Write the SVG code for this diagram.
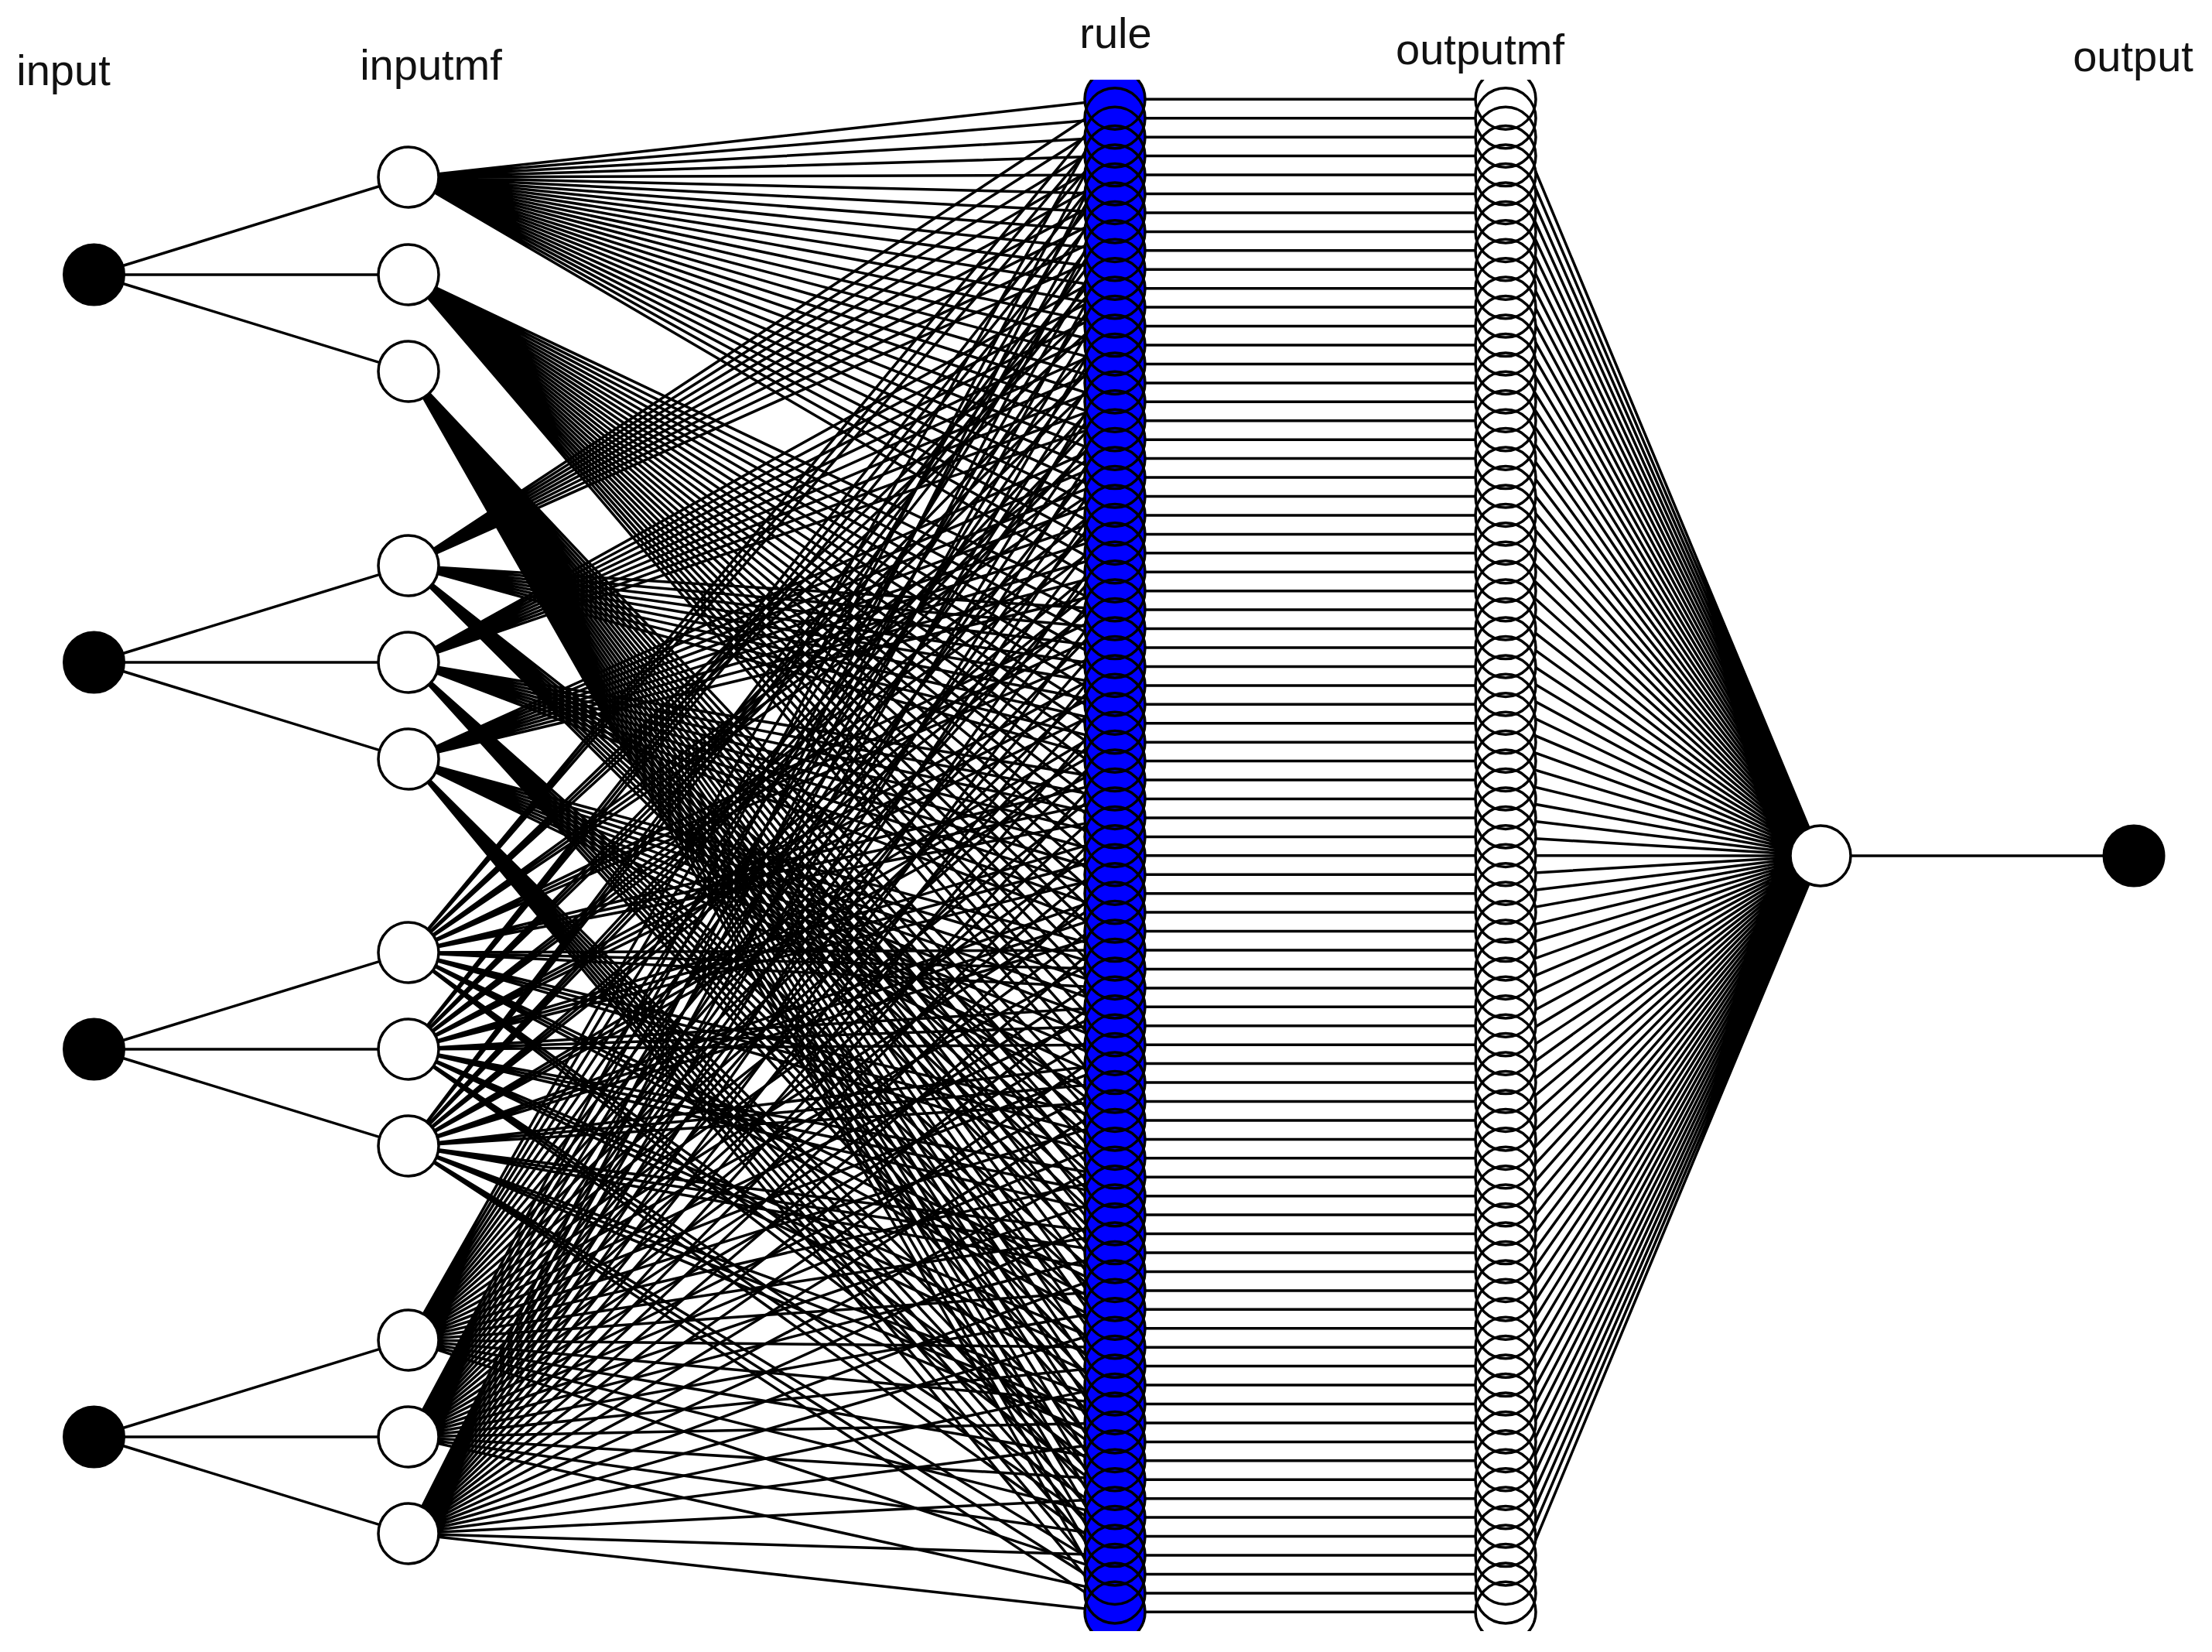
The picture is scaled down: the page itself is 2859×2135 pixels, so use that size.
<svg xmlns="http://www.w3.org/2000/svg" width="2859" height="2135" viewBox="0 0 2859 2135">
<style>
text{font-family:"Liberation Sans",Arial,sans-serif;font-size:56px;fill:#111;text-anchor:middle}
.c{stroke:#000;stroke-width:3.5;fill:none}
.inode{fill:#000;stroke:#000;stroke-width:3}
.mf{fill:#fff;stroke:#000;stroke-width:3.5}
.rfill{fill:#0000ff;stroke:none}
.wfill{fill:#fff;stroke:none}
.edge{fill:none;stroke:#000;stroke-width:3.5}
</style>
<defs><clipPath id="col"><rect x="1300" y="103" width="800" height="2005"/></clipPath></defs>
<rect width="2859" height="2135" fill="#fff"/>
<g id="labels">
<text x="82" y="110">input</text>
<text x="557" y="103">inputmf</text>
<text x="1442" y="62">rule</text>
<text x="1913" y="83">outputmf</text>
<text x="2757" y="92">output</text>
</g>
<g id="connectors" class="c">
<path id="input-to-mf" d="M121.5 355L528 229M121.5 355L528 355M121.5 355L528 480M121.5 856L528 731M121.5 856L528 856M121.5 856L528 981M121.5 1356L528 1231M121.5 1356L528 1356M121.5 1356L528 1481M121.5 1857L528 1732M121.5 1857L528 1857M121.5 1857L528 1982"/>
<path id="mf1-1-rules" d="M528 229L1441 128.3M528 229L1441 152.7M528 229L1441 177.2M528 229L1441 201.6M528 229L1441 226.1M528 229L1441 250.5M528 229L1441 274.9M528 229L1441 299.4M528 229L1441 323.8M528 229L1441 348.2M528 229L1441 372.7M528 229L1441 397.1M528 229L1441 421.6M528 229L1441 446M528 229L1441 470.4M528 229L1441 494.9M528 229L1441 519.3M528 229L1441 543.7M528 229L1441 568.2M528 229L1441 592.6M528 229L1441 617.1M528 229L1441 641.5M528 229L1441 665.9M528 229L1441 690.4M528 229L1441 714.8M528 229L1441 739.2M528 229L1441 763.7"/>
<path id="mf1-2-rules" d="M528 355L1441 788.1M528 355L1441 812.6M528 355L1441 837M528 355L1441 861.4M528 355L1441 885.9M528 355L1441 910.3M528 355L1441 934.7M528 355L1441 959.2M528 355L1441 983.6M528 355L1441 1008.1M528 355L1441 1032.5M528 355L1441 1056.9M528 355L1441 1081.4M528 355L1441 1105.8M528 355L1441 1130.2M528 355L1441 1154.7M528 355L1441 1179.1M528 355L1441 1203.6M528 355L1441 1228M528 355L1441 1252.4M528 355L1441 1276.9M528 355L1441 1301.3M528 355L1441 1325.7M528 355L1441 1350.2M528 355L1441 1374.6M528 355L1441 1399.1M528 355L1441 1423.5"/>
<path id="mf1-3-rules" d="M528 480L1441 1447.9M528 480L1441 1472.4M528 480L1441 1496.8M528 480L1441 1521.2M528 480L1441 1545.7M528 480L1441 1570.1M528 480L1441 1594.6M528 480L1441 1619M528 480L1441 1643.4M528 480L1441 1667.9M528 480L1441 1692.3M528 480L1441 1716.7M528 480L1441 1741.2M528 480L1441 1765.6M528 480L1441 1790.1M528 480L1441 1814.5M528 480L1441 1838.9M528 480L1441 1863.4M528 480L1441 1887.8M528 480L1441 1912.2M528 480L1441 1936.7M528 480L1441 1961.1M528 480L1441 1985.6M528 480L1441 2010M528 480L1441 2034.4M528 480L1441 2058.9M528 480L1441 2083.3"/>
<path id="mf2-1-rules" d="M528 731L1441 128.3M528 731L1441 152.7M528 731L1441 177.2M528 731L1441 201.6M528 731L1441 226.1M528 731L1441 250.5M528 731L1441 274.9M528 731L1441 299.4M528 731L1441 323.8M528 731L1441 788.1M528 731L1441 812.6M528 731L1441 837M528 731L1441 861.4M528 731L1441 885.9M528 731L1441 910.3M528 731L1441 934.7M528 731L1441 959.2M528 731L1441 983.6M528 731L1441 1447.9M528 731L1441 1472.4M528 731L1441 1496.8M528 731L1441 1521.2M528 731L1441 1545.7M528 731L1441 1570.1M528 731L1441 1594.6M528 731L1441 1619M528 731L1441 1643.4"/>
<path id="mf2-2-rules" d="M528 856L1441 348.2M528 856L1441 372.7M528 856L1441 397.1M528 856L1441 421.6M528 856L1441 446M528 856L1441 470.4M528 856L1441 494.9M528 856L1441 519.3M528 856L1441 543.7M528 856L1441 1008.1M528 856L1441 1032.5M528 856L1441 1056.9M528 856L1441 1081.4M528 856L1441 1105.8M528 856L1441 1130.2M528 856L1441 1154.7M528 856L1441 1179.1M528 856L1441 1203.6M528 856L1441 1667.9M528 856L1441 1692.3M528 856L1441 1716.7M528 856L1441 1741.2M528 856L1441 1765.6M528 856L1441 1790.1M528 856L1441 1814.5M528 856L1441 1838.9M528 856L1441 1863.4"/>
<path id="mf2-3-rules" d="M528 981L1441 568.2M528 981L1441 592.6M528 981L1441 617.1M528 981L1441 641.5M528 981L1441 665.9M528 981L1441 690.4M528 981L1441 714.8M528 981L1441 739.2M528 981L1441 763.7M528 981L1441 1228M528 981L1441 1252.4M528 981L1441 1276.9M528 981L1441 1301.3M528 981L1441 1325.7M528 981L1441 1350.2M528 981L1441 1374.6M528 981L1441 1399.1M528 981L1441 1423.5M528 981L1441 1887.8M528 981L1441 1912.2M528 981L1441 1936.7M528 981L1441 1961.1M528 981L1441 1985.6M528 981L1441 2010M528 981L1441 2034.4M528 981L1441 2058.9M528 981L1441 2083.3"/>
<path id="mf3-1-rules" d="M528 1231L1441 128.3M528 1231L1441 152.7M528 1231L1441 177.2M528 1231L1441 348.2M528 1231L1441 372.7M528 1231L1441 397.1M528 1231L1441 568.2M528 1231L1441 592.6M528 1231L1441 617.1M528 1231L1441 788.1M528 1231L1441 812.6M528 1231L1441 837M528 1231L1441 1008.1M528 1231L1441 1032.5M528 1231L1441 1056.9M528 1231L1441 1228M528 1231L1441 1252.4M528 1231L1441 1276.9M528 1231L1441 1447.9M528 1231L1441 1472.4M528 1231L1441 1496.8M528 1231L1441 1667.9M528 1231L1441 1692.3M528 1231L1441 1716.7M528 1231L1441 1887.8M528 1231L1441 1912.2M528 1231L1441 1936.7"/>
<path id="mf3-2-rules" d="M528 1356L1441 201.6M528 1356L1441 226.1M528 1356L1441 250.5M528 1356L1441 421.6M528 1356L1441 446M528 1356L1441 470.4M528 1356L1441 641.5M528 1356L1441 665.9M528 1356L1441 690.4M528 1356L1441 861.4M528 1356L1441 885.9M528 1356L1441 910.3M528 1356L1441 1081.4M528 1356L1441 1105.8M528 1356L1441 1130.2M528 1356L1441 1301.3M528 1356L1441 1325.7M528 1356L1441 1350.2M528 1356L1441 1521.2M528 1356L1441 1545.7M528 1356L1441 1570.1M528 1356L1441 1741.2M528 1356L1441 1765.6M528 1356L1441 1790.1M528 1356L1441 1961.1M528 1356L1441 1985.6M528 1356L1441 2010"/>
<path id="mf3-3-rules" d="M528 1481L1441 274.9M528 1481L1441 299.4M528 1481L1441 323.8M528 1481L1441 494.9M528 1481L1441 519.3M528 1481L1441 543.7M528 1481L1441 714.8M528 1481L1441 739.2M528 1481L1441 763.7M528 1481L1441 934.7M528 1481L1441 959.2M528 1481L1441 983.6M528 1481L1441 1154.7M528 1481L1441 1179.1M528 1481L1441 1203.6M528 1481L1441 1374.6M528 1481L1441 1399.1M528 1481L1441 1423.5M528 1481L1441 1594.6M528 1481L1441 1619M528 1481L1441 1643.4M528 1481L1441 1814.5M528 1481L1441 1838.9M528 1481L1441 1863.4M528 1481L1441 2034.4M528 1481L1441 2058.9M528 1481L1441 2083.3"/>
<path id="mf4-1-rules" d="M528 1732L1441 128.3M528 1732L1441 201.6M528 1732L1441 274.9M528 1732L1441 348.2M528 1732L1441 421.6M528 1732L1441 494.9M528 1732L1441 568.2M528 1732L1441 641.5M528 1732L1441 714.8M528 1732L1441 788.1M528 1732L1441 861.4M528 1732L1441 934.7M528 1732L1441 1008.1M528 1732L1441 1081.4M528 1732L1441 1154.7M528 1732L1441 1228M528 1732L1441 1301.3M528 1732L1441 1374.6M528 1732L1441 1447.9M528 1732L1441 1521.2M528 1732L1441 1594.6M528 1732L1441 1667.9M528 1732L1441 1741.2M528 1732L1441 1814.5M528 1732L1441 1887.8M528 1732L1441 1961.1M528 1732L1441 2034.4"/>
<path id="mf4-2-rules" d="M528 1857L1441 152.7M528 1857L1441 226.1M528 1857L1441 299.4M528 1857L1441 372.7M528 1857L1441 446M528 1857L1441 519.3M528 1857L1441 592.6M528 1857L1441 665.9M528 1857L1441 739.2M528 1857L1441 812.6M528 1857L1441 885.9M528 1857L1441 959.2M528 1857L1441 1032.5M528 1857L1441 1105.8M528 1857L1441 1179.1M528 1857L1441 1252.4M528 1857L1441 1325.7M528 1857L1441 1399.1M528 1857L1441 1472.4M528 1857L1441 1545.7M528 1857L1441 1619M528 1857L1441 1692.3M528 1857L1441 1765.6M528 1857L1441 1838.9M528 1857L1441 1912.2M528 1857L1441 1985.6M528 1857L1441 2058.9"/>
<path id="mf4-3-rules" d="M528 1982L1441 177.2M528 1982L1441 250.5M528 1982L1441 323.8M528 1982L1441 397.1M528 1982L1441 470.4M528 1982L1441 543.7M528 1982L1441 617.1M528 1982L1441 690.4M528 1982L1441 763.7M528 1982L1441 837M528 1982L1441 910.3M528 1982L1441 983.6M528 1982L1441 1056.9M528 1982L1441 1130.2M528 1982L1441 1203.6M528 1982L1441 1276.9M528 1982L1441 1350.2M528 1982L1441 1423.5M528 1982L1441 1496.8M528 1982L1441 1570.1M528 1982L1441 1643.4M528 1982L1441 1716.7M528 1982L1441 1790.1M528 1982L1441 1863.4M528 1982L1441 1936.7M528 1982L1441 2010M528 1982L1441 2083.3"/>
<path id="rules-to-outputmf" d="M1441 128.3H1946M1441 152.7H1946M1441 177.2H1946M1441 201.6H1946M1441 226.1H1946M1441 250.5H1946M1441 274.9H1946M1441 299.4H1946M1441 323.8H1946M1441 348.2H1946M1441 372.7H1946M1441 397.1H1946M1441 421.6H1946M1441 446H1946M1441 470.4H1946M1441 494.9H1946M1441 519.3H1946M1441 543.7H1946M1441 568.2H1946M1441 592.6H1946M1441 617.1H1946M1441 641.5H1946M1441 665.9H1946M1441 690.4H1946M1441 714.8H1946M1441 739.2H1946M1441 763.7H1946M1441 788.1H1946M1441 812.6H1946M1441 837H1946M1441 861.4H1946M1441 885.9H1946M1441 910.3H1946M1441 934.7H1946M1441 959.2H1946M1441 983.6H1946M1441 1008.1H1946M1441 1032.5H1946M1441 1056.9H1946M1441 1081.4H1946M1441 1105.8H1946M1441 1130.2H1946M1441 1154.7H1946M1441 1179.1H1946M1441 1203.6H1946M1441 1228H1946M1441 1252.4H1946M1441 1276.9H1946M1441 1301.3H1946M1441 1325.7H1946M1441 1350.2H1946M1441 1374.6H1946M1441 1399.1H1946M1441 1423.5H1946M1441 1447.9H1946M1441 1472.4H1946M1441 1496.8H1946M1441 1521.2H1946M1441 1545.7H1946M1441 1570.1H1946M1441 1594.6H1946M1441 1619H1946M1441 1643.4H1946M1441 1667.9H1946M1441 1692.3H1946M1441 1716.7H1946M1441 1741.2H1946M1441 1765.6H1946M1441 1790.1H1946M1441 1814.5H1946M1441 1838.9H1946M1441 1863.4H1946M1441 1887.8H1946M1441 1912.2H1946M1441 1936.7H1946M1441 1961.1H1946M1441 1985.6H1946M1441 2010H1946M1441 2034.4H1946M1441 2058.9H1946M1441 2083.3H1946"/>
<path id="outputmf-to-output" d="M1946 128.3L2353 1106M1946 152.7L2353 1106M1946 177.2L2353 1106M1946 201.6L2353 1106M1946 226.1L2353 1106M1946 250.5L2353 1106M1946 274.9L2353 1106M1946 299.4L2353 1106M1946 323.8L2353 1106M1946 348.2L2353 1106M1946 372.7L2353 1106M1946 397.1L2353 1106M1946 421.6L2353 1106M1946 446L2353 1106M1946 470.4L2353 1106M1946 494.9L2353 1106M1946 519.3L2353 1106M1946 543.7L2353 1106M1946 568.2L2353 1106M1946 592.6L2353 1106M1946 617.1L2353 1106M1946 641.5L2353 1106M1946 665.9L2353 1106M1946 690.4L2353 1106M1946 714.8L2353 1106M1946 739.2L2353 1106M1946 763.7L2353 1106M1946 788.1L2353 1106M1946 812.6L2353 1106M1946 837L2353 1106M1946 861.4L2353 1106M1946 885.9L2353 1106M1946 910.3L2353 1106M1946 934.7L2353 1106M1946 959.2L2353 1106M1946 983.6L2353 1106M1946 1008.1L2353 1106M1946 1032.5L2353 1106M1946 1056.9L2353 1106M1946 1081.4L2353 1106M1946 1105.8L2353 1106M1946 1130.2L2353 1106M1946 1154.7L2353 1106M1946 1179.1L2353 1106M1946 1203.6L2353 1106M1946 1228L2353 1106M1946 1252.4L2353 1106M1946 1276.9L2353 1106M1946 1301.3L2353 1106M1946 1325.7L2353 1106M1946 1350.2L2353 1106M1946 1374.6L2353 1106M1946 1399.1L2353 1106M1946 1423.5L2353 1106M1946 1447.9L2353 1106M1946 1472.4L2353 1106M1946 1496.8L2353 1106M1946 1521.2L2353 1106M1946 1545.7L2353 1106M1946 1570.1L2353 1106M1946 1594.6L2353 1106M1946 1619L2353 1106M1946 1643.4L2353 1106M1946 1667.9L2353 1106M1946 1692.3L2353 1106M1946 1716.7L2353 1106M1946 1741.2L2353 1106M1946 1765.6L2353 1106M1946 1790.1L2353 1106M1946 1814.5L2353 1106M1946 1838.9L2353 1106M1946 1863.4L2353 1106M1946 1887.8L2353 1106M1946 1912.2L2353 1106M1946 1936.7L2353 1106M1946 1961.1L2353 1106M1946 1985.6L2353 1106M1946 2010L2353 1106M1946 2034.4L2353 1106M1946 2058.9L2353 1106M1946 2083.3L2353 1106"/>
<path id="output-line" d="M2353 1106H2758"/>
</g>
<g id="input1"><circle class="inode" cx="121.5" cy="355" r="39"/></g>
<g id="input2"><circle class="inode" cx="121.5" cy="856" r="39"/></g>
<g id="input3"><circle class="inode" cx="121.5" cy="1356" r="39"/></g>
<g id="input4"><circle class="inode" cx="121.5" cy="1857" r="39"/></g>
<g id="inputmf1-1"><circle class="mf" cx="528" cy="229" r="39"/></g>
<g id="inputmf1-2"><circle class="mf" cx="528" cy="355" r="39"/></g>
<g id="inputmf1-3"><circle class="mf" cx="528" cy="480" r="39"/></g>
<g id="inputmf2-1"><circle class="mf" cx="528" cy="731" r="39"/></g>
<g id="inputmf2-2"><circle class="mf" cx="528" cy="856" r="39"/></g>
<g id="inputmf2-3"><circle class="mf" cx="528" cy="981" r="39"/></g>
<g id="inputmf3-1"><circle class="mf" cx="528" cy="1231" r="39"/></g>
<g id="inputmf3-2"><circle class="mf" cx="528" cy="1356" r="39"/></g>
<g id="inputmf3-3"><circle class="mf" cx="528" cy="1481" r="39"/></g>
<g id="inputmf4-1"><circle class="mf" cx="528" cy="1732" r="39"/></g>
<g id="inputmf4-2"><circle class="mf" cx="528" cy="1857" r="39"/></g>
<g id="inputmf4-3"><circle class="mf" cx="528" cy="1982" r="39"/></g>
<g id="rules" clip-path="url(#col)">
<g class="rfill">
<circle id="rule1" cx="1441" cy="128.3" r="39"/><circle id="rule2" cx="1441" cy="152.7" r="39"/><circle id="rule3" cx="1441" cy="177.2" r="39"/><circle id="rule4" cx="1441" cy="201.6" r="39"/><circle id="rule5" cx="1441" cy="226.1" r="39"/><circle id="rule6" cx="1441" cy="250.5" r="39"/><circle id="rule7" cx="1441" cy="274.9" r="39"/><circle id="rule8" cx="1441" cy="299.4" r="39"/><circle id="rule9" cx="1441" cy="323.8" r="39"/>
<circle id="rule10" cx="1441" cy="348.2" r="39"/><circle id="rule11" cx="1441" cy="372.7" r="39"/><circle id="rule12" cx="1441" cy="397.1" r="39"/><circle id="rule13" cx="1441" cy="421.6" r="39"/><circle id="rule14" cx="1441" cy="446" r="39"/><circle id="rule15" cx="1441" cy="470.4" r="39"/><circle id="rule16" cx="1441" cy="494.9" r="39"/><circle id="rule17" cx="1441" cy="519.3" r="39"/><circle id="rule18" cx="1441" cy="543.7" r="39"/>
<circle id="rule19" cx="1441" cy="568.2" r="39"/><circle id="rule20" cx="1441" cy="592.6" r="39"/><circle id="rule21" cx="1441" cy="617.1" r="39"/><circle id="rule22" cx="1441" cy="641.5" r="39"/><circle id="rule23" cx="1441" cy="665.9" r="39"/><circle id="rule24" cx="1441" cy="690.4" r="39"/><circle id="rule25" cx="1441" cy="714.8" r="39"/><circle id="rule26" cx="1441" cy="739.2" r="39"/><circle id="rule27" cx="1441" cy="763.7" r="39"/>
<circle id="rule28" cx="1441" cy="788.1" r="39"/><circle id="rule29" cx="1441" cy="812.6" r="39"/><circle id="rule30" cx="1441" cy="837" r="39"/><circle id="rule31" cx="1441" cy="861.4" r="39"/><circle id="rule32" cx="1441" cy="885.9" r="39"/><circle id="rule33" cx="1441" cy="910.3" r="39"/><circle id="rule34" cx="1441" cy="934.7" r="39"/><circle id="rule35" cx="1441" cy="959.2" r="39"/><circle id="rule36" cx="1441" cy="983.6" r="39"/>
<circle id="rule37" cx="1441" cy="1008.1" r="39"/><circle id="rule38" cx="1441" cy="1032.5" r="39"/><circle id="rule39" cx="1441" cy="1056.9" r="39"/><circle id="rule40" cx="1441" cy="1081.4" r="39"/><circle id="rule41" cx="1441" cy="1105.8" r="39"/><circle id="rule42" cx="1441" cy="1130.2" r="39"/><circle id="rule43" cx="1441" cy="1154.7" r="39"/><circle id="rule44" cx="1441" cy="1179.1" r="39"/><circle id="rule45" cx="1441" cy="1203.6" r="39"/>
<circle id="rule46" cx="1441" cy="1228" r="39"/><circle id="rule47" cx="1441" cy="1252.4" r="39"/><circle id="rule48" cx="1441" cy="1276.9" r="39"/><circle id="rule49" cx="1441" cy="1301.3" r="39"/><circle id="rule50" cx="1441" cy="1325.7" r="39"/><circle id="rule51" cx="1441" cy="1350.2" r="39"/><circle id="rule52" cx="1441" cy="1374.6" r="39"/><circle id="rule53" cx="1441" cy="1399.1" r="39"/><circle id="rule54" cx="1441" cy="1423.5" r="39"/>
<circle id="rule55" cx="1441" cy="1447.9" r="39"/><circle id="rule56" cx="1441" cy="1472.4" r="39"/><circle id="rule57" cx="1441" cy="1496.8" r="39"/><circle id="rule58" cx="1441" cy="1521.2" r="39"/><circle id="rule59" cx="1441" cy="1545.7" r="39"/><circle id="rule60" cx="1441" cy="1570.1" r="39"/><circle id="rule61" cx="1441" cy="1594.6" r="39"/><circle id="rule62" cx="1441" cy="1619" r="39"/><circle id="rule63" cx="1441" cy="1643.4" r="39"/>
<circle id="rule64" cx="1441" cy="1667.9" r="39"/><circle id="rule65" cx="1441" cy="1692.3" r="39"/><circle id="rule66" cx="1441" cy="1716.7" r="39"/><circle id="rule67" cx="1441" cy="1741.2" r="39"/><circle id="rule68" cx="1441" cy="1765.6" r="39"/><circle id="rule69" cx="1441" cy="1790.1" r="39"/><circle id="rule70" cx="1441" cy="1814.5" r="39"/><circle id="rule71" cx="1441" cy="1838.9" r="39"/><circle id="rule72" cx="1441" cy="1863.4" r="39"/>
<circle id="rule73" cx="1441" cy="1887.8" r="39"/><circle id="rule74" cx="1441" cy="1912.2" r="39"/><circle id="rule75" cx="1441" cy="1936.7" r="39"/><circle id="rule76" cx="1441" cy="1961.1" r="39"/><circle id="rule77" cx="1441" cy="1985.6" r="39"/><circle id="rule78" cx="1441" cy="2010" r="39"/><circle id="rule79" cx="1441" cy="2034.4" r="39"/><circle id="rule80" cx="1441" cy="2058.9" r="39"/><circle id="rule81" cx="1441" cy="2083.3" r="39"/>
</g>
<g class="edge">
<use href="#rule1"/><use href="#rule2"/><use href="#rule3"/><use href="#rule4"/><use href="#rule5"/><use href="#rule6"/><use href="#rule7"/><use href="#rule8"/><use href="#rule9"/><use href="#rule10"/><use href="#rule11"/><use href="#rule12"/><use href="#rule13"/><use href="#rule14"/><use href="#rule15"/><use href="#rule16"/><use href="#rule17"/><use href="#rule18"/><use href="#rule19"/><use href="#rule20"/><use href="#rule21"/><use href="#rule22"/><use href="#rule23"/><use href="#rule24"/><use href="#rule25"/><use href="#rule26"/><use href="#rule27"/>
<use href="#rule28"/><use href="#rule29"/><use href="#rule30"/><use href="#rule31"/><use href="#rule32"/><use href="#rule33"/><use href="#rule34"/><use href="#rule35"/><use href="#rule36"/><use href="#rule37"/><use href="#rule38"/><use href="#rule39"/><use href="#rule40"/><use href="#rule41"/><use href="#rule42"/><use href="#rule43"/><use href="#rule44"/><use href="#rule45"/><use href="#rule46"/><use href="#rule47"/><use href="#rule48"/><use href="#rule49"/><use href="#rule50"/><use href="#rule51"/><use href="#rule52"/><use href="#rule53"/><use href="#rule54"/>
<use href="#rule55"/><use href="#rule56"/><use href="#rule57"/><use href="#rule58"/><use href="#rule59"/><use href="#rule60"/><use href="#rule61"/><use href="#rule62"/><use href="#rule63"/><use href="#rule64"/><use href="#rule65"/><use href="#rule66"/><use href="#rule67"/><use href="#rule68"/><use href="#rule69"/><use href="#rule70"/><use href="#rule71"/><use href="#rule72"/><use href="#rule73"/><use href="#rule74"/><use href="#rule75"/><use href="#rule76"/><use href="#rule77"/><use href="#rule78"/><use href="#rule79"/><use href="#rule80"/><use href="#rule81"/>
</g>
</g>
<g id="outputmfs" clip-path="url(#col)">
<g class="wfill">
<circle id="omf1" cx="1946" cy="128.3" r="39"/><circle id="omf2" cx="1946" cy="152.7" r="39"/><circle id="omf3" cx="1946" cy="177.2" r="39"/><circle id="omf4" cx="1946" cy="201.6" r="39"/><circle id="omf5" cx="1946" cy="226.1" r="39"/><circle id="omf6" cx="1946" cy="250.5" r="39"/><circle id="omf7" cx="1946" cy="274.9" r="39"/><circle id="omf8" cx="1946" cy="299.4" r="39"/><circle id="omf9" cx="1946" cy="323.8" r="39"/>
<circle id="omf10" cx="1946" cy="348.2" r="39"/><circle id="omf11" cx="1946" cy="372.7" r="39"/><circle id="omf12" cx="1946" cy="397.1" r="39"/><circle id="omf13" cx="1946" cy="421.6" r="39"/><circle id="omf14" cx="1946" cy="446" r="39"/><circle id="omf15" cx="1946" cy="470.4" r="39"/><circle id="omf16" cx="1946" cy="494.9" r="39"/><circle id="omf17" cx="1946" cy="519.3" r="39"/><circle id="omf18" cx="1946" cy="543.7" r="39"/>
<circle id="omf19" cx="1946" cy="568.2" r="39"/><circle id="omf20" cx="1946" cy="592.6" r="39"/><circle id="omf21" cx="1946" cy="617.1" r="39"/><circle id="omf22" cx="1946" cy="641.5" r="39"/><circle id="omf23" cx="1946" cy="665.9" r="39"/><circle id="omf24" cx="1946" cy="690.4" r="39"/><circle id="omf25" cx="1946" cy="714.8" r="39"/><circle id="omf26" cx="1946" cy="739.2" r="39"/><circle id="omf27" cx="1946" cy="763.7" r="39"/>
<circle id="omf28" cx="1946" cy="788.1" r="39"/><circle id="omf29" cx="1946" cy="812.6" r="39"/><circle id="omf30" cx="1946" cy="837" r="39"/><circle id="omf31" cx="1946" cy="861.4" r="39"/><circle id="omf32" cx="1946" cy="885.9" r="39"/><circle id="omf33" cx="1946" cy="910.3" r="39"/><circle id="omf34" cx="1946" cy="934.7" r="39"/><circle id="omf35" cx="1946" cy="959.2" r="39"/><circle id="omf36" cx="1946" cy="983.6" r="39"/>
<circle id="omf37" cx="1946" cy="1008.1" r="39"/><circle id="omf38" cx="1946" cy="1032.5" r="39"/><circle id="omf39" cx="1946" cy="1056.9" r="39"/><circle id="omf40" cx="1946" cy="1081.4" r="39"/><circle id="omf41" cx="1946" cy="1105.8" r="39"/><circle id="omf42" cx="1946" cy="1130.2" r="39"/><circle id="omf43" cx="1946" cy="1154.7" r="39"/><circle id="omf44" cx="1946" cy="1179.1" r="39"/><circle id="omf45" cx="1946" cy="1203.6" r="39"/>
<circle id="omf46" cx="1946" cy="1228" r="39"/><circle id="omf47" cx="1946" cy="1252.4" r="39"/><circle id="omf48" cx="1946" cy="1276.9" r="39"/><circle id="omf49" cx="1946" cy="1301.3" r="39"/><circle id="omf50" cx="1946" cy="1325.7" r="39"/><circle id="omf51" cx="1946" cy="1350.2" r="39"/><circle id="omf52" cx="1946" cy="1374.6" r="39"/><circle id="omf53" cx="1946" cy="1399.1" r="39"/><circle id="omf54" cx="1946" cy="1423.5" r="39"/>
<circle id="omf55" cx="1946" cy="1447.9" r="39"/><circle id="omf56" cx="1946" cy="1472.4" r="39"/><circle id="omf57" cx="1946" cy="1496.8" r="39"/><circle id="omf58" cx="1946" cy="1521.2" r="39"/><circle id="omf59" cx="1946" cy="1545.7" r="39"/><circle id="omf60" cx="1946" cy="1570.1" r="39"/><circle id="omf61" cx="1946" cy="1594.6" r="39"/><circle id="omf62" cx="1946" cy="1619" r="39"/><circle id="omf63" cx="1946" cy="1643.4" r="39"/>
<circle id="omf64" cx="1946" cy="1667.9" r="39"/><circle id="omf65" cx="1946" cy="1692.3" r="39"/><circle id="omf66" cx="1946" cy="1716.7" r="39"/><circle id="omf67" cx="1946" cy="1741.2" r="39"/><circle id="omf68" cx="1946" cy="1765.6" r="39"/><circle id="omf69" cx="1946" cy="1790.1" r="39"/><circle id="omf70" cx="1946" cy="1814.5" r="39"/><circle id="omf71" cx="1946" cy="1838.9" r="39"/><circle id="omf72" cx="1946" cy="1863.4" r="39"/>
<circle id="omf73" cx="1946" cy="1887.8" r="39"/><circle id="omf74" cx="1946" cy="1912.2" r="39"/><circle id="omf75" cx="1946" cy="1936.7" r="39"/><circle id="omf76" cx="1946" cy="1961.1" r="39"/><circle id="omf77" cx="1946" cy="1985.6" r="39"/><circle id="omf78" cx="1946" cy="2010" r="39"/><circle id="omf79" cx="1946" cy="2034.4" r="39"/><circle id="omf80" cx="1946" cy="2058.9" r="39"/><circle id="omf81" cx="1946" cy="2083.3" r="39"/>
</g>
<g class="edge">
<use href="#omf1"/><use href="#omf2"/><use href="#omf3"/><use href="#omf4"/><use href="#omf5"/><use href="#omf6"/><use href="#omf7"/><use href="#omf8"/><use href="#omf9"/><use href="#omf10"/><use href="#omf11"/><use href="#omf12"/><use href="#omf13"/><use href="#omf14"/><use href="#omf15"/><use href="#omf16"/><use href="#omf17"/><use href="#omf18"/><use href="#omf19"/><use href="#omf20"/><use href="#omf21"/><use href="#omf22"/><use href="#omf23"/><use href="#omf24"/><use href="#omf25"/><use href="#omf26"/><use href="#omf27"/>
<use href="#omf28"/><use href="#omf29"/><use href="#omf30"/><use href="#omf31"/><use href="#omf32"/><use href="#omf33"/><use href="#omf34"/><use href="#omf35"/><use href="#omf36"/><use href="#omf37"/><use href="#omf38"/><use href="#omf39"/><use href="#omf40"/><use href="#omf41"/><use href="#omf42"/><use href="#omf43"/><use href="#omf44"/><use href="#omf45"/><use href="#omf46"/><use href="#omf47"/><use href="#omf48"/><use href="#omf49"/><use href="#omf50"/><use href="#omf51"/><use href="#omf52"/><use href="#omf53"/><use href="#omf54"/>
<use href="#omf55"/><use href="#omf56"/><use href="#omf57"/><use href="#omf58"/><use href="#omf59"/><use href="#omf60"/><use href="#omf61"/><use href="#omf62"/><use href="#omf63"/><use href="#omf64"/><use href="#omf65"/><use href="#omf66"/><use href="#omf67"/><use href="#omf68"/><use href="#omf69"/><use href="#omf70"/><use href="#omf71"/><use href="#omf72"/><use href="#omf73"/><use href="#omf74"/><use href="#omf75"/><use href="#omf76"/><use href="#omf77"/><use href="#omf78"/><use href="#omf79"/><use href="#omf80"/><use href="#omf81"/>
</g>
</g>
<g id="output-mf"><circle class="mf" cx="2353" cy="1106" r="39"/></g>
<g id="output"><circle class="inode" cx="2758" cy="1106" r="39"/></g>
</svg>
